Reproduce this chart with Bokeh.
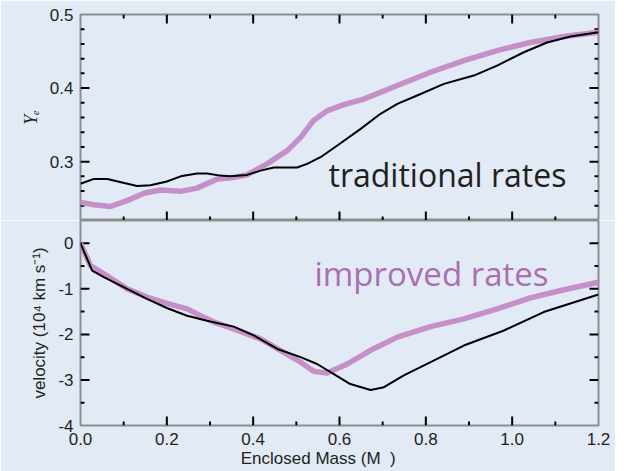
import numpy as np

from bokeh.embed import file_html
from bokeh.layouts import column
from bokeh.models import CustomJSTickFormatter, FixedTicker, Label, LinearAxis, Range1d
from bokeh.plotting import figure
from bokeh.resources import INLINE

# Electron fraction Y_e versus enclosed mass
mass_ye_trad = [0.0, 0.031, 0.062, 0.131, 0.162, 0.2, 0.232, 0.27, 0.293, 0.324,
                0.347, 0.386, 0.417, 0.448, 0.502, 0.525, 0.556, 0.595, 0.649,
                0.695, 0.734, 0.788, 0.842, 0.911, 0.965, 1.027, 1.081, 1.135, 1.2]
ye_trad = [0.270, 0.2765, 0.2765, 0.267, 0.268, 0.273, 0.280, 0.284, 0.284, 0.281,
           0.280, 0.282, 0.2878, 0.292, 0.292, 0.297, 0.306, 0.322, 0.3445,
           0.365, 0.3785, 0.392, 0.4057, 0.417, 0.4306, 0.4487, 0.462, 0.470, 0.476]

mass_ye_impr = [0.0, 0.031, 0.069, 0.108, 0.147, 0.185, 0.232, 0.27, 0.317, 0.355,
                0.386, 0.432, 0.479, 0.51, 0.54, 0.571, 0.61, 0.656, 0.734, 0.811,
                0.888, 0.965, 1.042, 1.12, 1.2]
ye_impr = [0.2446, 0.2415, 0.239, 0.247, 0.257, 0.2615, 0.2596, 0.264, 0.2765, 0.2786,
           0.282, 0.297, 0.315, 0.333, 0.356, 0.369, 0.3776, 0.385, 0.4034, 0.4215,
           0.4374, 0.451, 0.462, 0.470, 0.476]

# Infall velocity (10^4 km/s) versus enclosed mass
mass_v_trad = [0.0, 0.027, 0.054, 0.108, 0.154, 0.2, 0.247, 0.293, 0.355, 0.401,
               0.456, 0.51, 0.548, 0.587, 0.625, 0.672, 0.703, 0.749, 0.811, 0.888,
               0.981, 1.073, 1.2]
v_trad = [0.0, -0.60, -0.745, -1.0, -1.22, -1.42, -1.59, -1.70, -1.83, -2.02,
          -2.32, -2.50, -2.65, -2.87, -3.09, -3.22, -3.16, -2.90, -2.61, -2.245,
          -1.915, -1.51, -1.125]

mass_v_impr = [0.0, 0.023, 0.054, 0.108, 0.154, 0.2, 0.247, 0.278, 0.309, 0.355,
               0.417, 0.463, 0.51, 0.54, 0.571, 0.618, 0.672, 0.734, 0.811, 0.888,
               0.965, 1.042, 1.12, 1.2]
v_impr = [0.0, -0.49, -0.67, -1.0, -1.18, -1.32, -1.44, -1.59, -1.73, -1.88,
          -2.10, -2.35, -2.61, -2.81, -2.85, -2.65, -2.35, -2.06, -1.83, -1.66,
          -1.44, -1.20, -1.02, -0.855]

x_major = [0.0, 0.2, 0.4, 0.6, 0.8, 1.0, 1.2]
x_minor = [0.1, 0.3, 0.5, 0.7, 0.9, 1.1]
ye_major = [0.3, 0.4, 0.5]
ye_minor = [0.22, 0.24, 0.26, 0.28, 0.32, 0.34, 0.36, 0.38, 0.42, 0.44, 0.46, 0.48]
v_major = [-4, -3, -2, -1, 0]
v_minor = [-3.5, -2.5, -1.5, -0.5]

X_LO, X_HI = 0.0, 1.2
YE_LO, YE_HI = 0.22, 0.5
V_LO, V_HI = -4.0, 0.5

BG = "#e2eaf6"
FRAME = "#8e8e8e"
INK = "#231f20"
PURPLE_LINE = "#c490c7"
PURPLE_TEXT = "#a96fb1"
TICK_FONT = "Liberation Sans"

WIDTH = 615
BORDER_LEFT, BORDER_RIGHT = 80, 17
FRAME_W = WIDTH - BORDER_LEFT - BORDER_RIGHT
TOP_H, TOP_BORDER = 220, 14
BOT_H, BOT_BORDER = 251, 46
MAJOR_LEN = 9   # px
MINOR_LEN = 4   # px
TICK_W = 2      # px


def label_axis(major, digits, label):
    """Axis that carries only the tick labels and the axis title."""
    ax = LinearAxis(ticker=FixedTicker(ticks=major, minor_ticks=[]),
                    formatter=CustomJSTickFormatter(code=f"return tick.toFixed({digits});"))
    ax.axis_line_color = None
    ax.major_tick_line_color = None
    ax.minor_tick_line_color = None
    ax.major_tick_in = 0
    ax.major_tick_out = 0
    ax.minor_tick_in = 0
    ax.minor_tick_out = 0
    ax.major_label_text_font = TICK_FONT
    ax.major_label_text_font_size = "17px"
    ax.major_label_text_color = INK
    ax.major_label_standoff = 7
    ax.axis_label = label
    ax.axis_label_text_color = INK
    return ax


def inner(ticks, lo, hi):
    return [t for t in ticks if lo < t < hi]


def frame_ticks(p, y_lo, y_hi, frame_h, y_major, y_minor, x_edges):
    """Inward tick marks on the frame edges, drawn as small filled bars."""
    dx = (X_HI - X_LO) / FRAME_W      # data units per pixel, horizontally
    dy = (y_hi - y_lo) / frame_h      # data units per pixel, vertically
    left, right, bottom, top = [], [], [], []
    for ticks, n in ((inner(y_major, y_lo, y_hi), MAJOR_LEN),
                     (inner(y_minor, y_lo, y_hi), MINOR_LEN)):
        for t in ticks:
            half = TICK_W / 2 * dy
            left += [X_LO, X_HI - n * dx]
            right += [X_LO + n * dx, X_HI]
            bottom += [t - half, t - half]
            top += [t + half, t + half]
    for ticks, n in ((inner(x_major, X_LO, X_HI), MAJOR_LEN),
                     (inner(x_minor, X_LO, X_HI), MINOR_LEN)):
        for t in ticks:
            half = TICK_W / 2 * dx
            for edge in x_edges:
                left.append(t - half)
                right.append(t + half)
                if edge == y_lo:
                    bottom.append(edge)
                    top.append(edge + n * dy)
                else:
                    bottom.append(edge - n * dy)
                    top.append(edge)
    p.quad(left=left, right=right, bottom=bottom, top=top,
           fill_color="black", line_color=None)


def panel(height, y_range, border_top, border_bottom):
    p = figure(width=WIDTH, height=height, output_backend="svg", toolbar_location=None,
               x_range=Range1d(X_LO, X_HI), y_range=y_range,
               x_axis_location=None, y_axis_location=None,
               min_border_left=BORDER_LEFT, min_border_right=BORDER_RIGHT,
               min_border_top=border_top, min_border_bottom=border_bottom)
    p.background_fill_color = BG
    p.border_fill_color = BG
    p.outline_line_color = FRAME
    p.outline_line_width = 2
    p.grid.visible = False
    return p


# ---- top panel: Y_e ----
top = panel(TOP_H, Range1d(YE_LO, YE_HI), TOP_BORDER, 0)
ye_axis = label_axis(ye_major, 1, "Yₑ")
ye_axis.axis_label_text_font = "Liberation Serif"
ye_axis.axis_label_text_font_style = "italic"
ye_axis.axis_label_text_font_size = "18px"
ye_axis.axis_label_standoff = 6
top.add_layout(ye_axis, "left")

frame_ticks(top, YE_LO, YE_HI, TOP_H - TOP_BORDER, ye_major, ye_minor, (YE_LO, YE_HI))
top.line(mass_ye_impr, ye_impr, line_color=PURPLE_LINE, line_width=5.5, line_join="round")
top.line(mass_ye_trad, ye_trad, line_color="black", line_width=2, line_join="round")

top.add_layout(Label(x=0.5745, y=0.283, text="traditional rates", text_font="Open Sans",
                     text_font_size="32px", text_color=INK, text_align="left",
                     text_baseline="middle"))

# ---- bottom panel: velocity ----
bottom = panel(BOT_H, Range1d(V_LO, V_HI), 0, BOT_BORDER)
v_axis = label_axis(v_major, 0, "velocity (10⁴ km s⁻¹)")
v_axis.axis_label_text_font = TICK_FONT
v_axis.axis_label_text_font_style = "normal"
v_axis.axis_label_text_font_size = "17px"
v_axis.axis_label_standoff = 6
bottom.add_layout(v_axis, "left")

x_axis = label_axis(x_major, 1, "Enclosed Mass (M\u00a0\u00a0)" + "\u00a0" * 9)
x_axis.axis_label_text_font = TICK_FONT
x_axis.axis_label_text_font_style = "normal"
x_axis.axis_label_text_font_size = "17px"
x_axis.major_label_standoff = 7
x_axis.axis_label_standoff = 1
bottom.add_layout(x_axis, "below")

frame_ticks(bottom, V_LO, V_HI, BOT_H - BOT_BORDER, v_major, v_minor, (V_LO,))
bottom.line(mass_v_impr, v_impr, line_color=PURPLE_LINE, line_width=5.5, line_join="round")
bottom.line(mass_v_trad, v_trad, line_color="black", line_width=2, line_join="round")

bottom.add_layout(Label(x=0.542, y=-0.658, text="improved rates", text_font="Open Sans",
                        text_font_size="33px", text_color=PURPLE_TEXT, text_align="left",
                        text_baseline="middle"))

layout = column(top, bottom, spacing=0)
open("out.html", "w").write(file_html(layout, INLINE))
